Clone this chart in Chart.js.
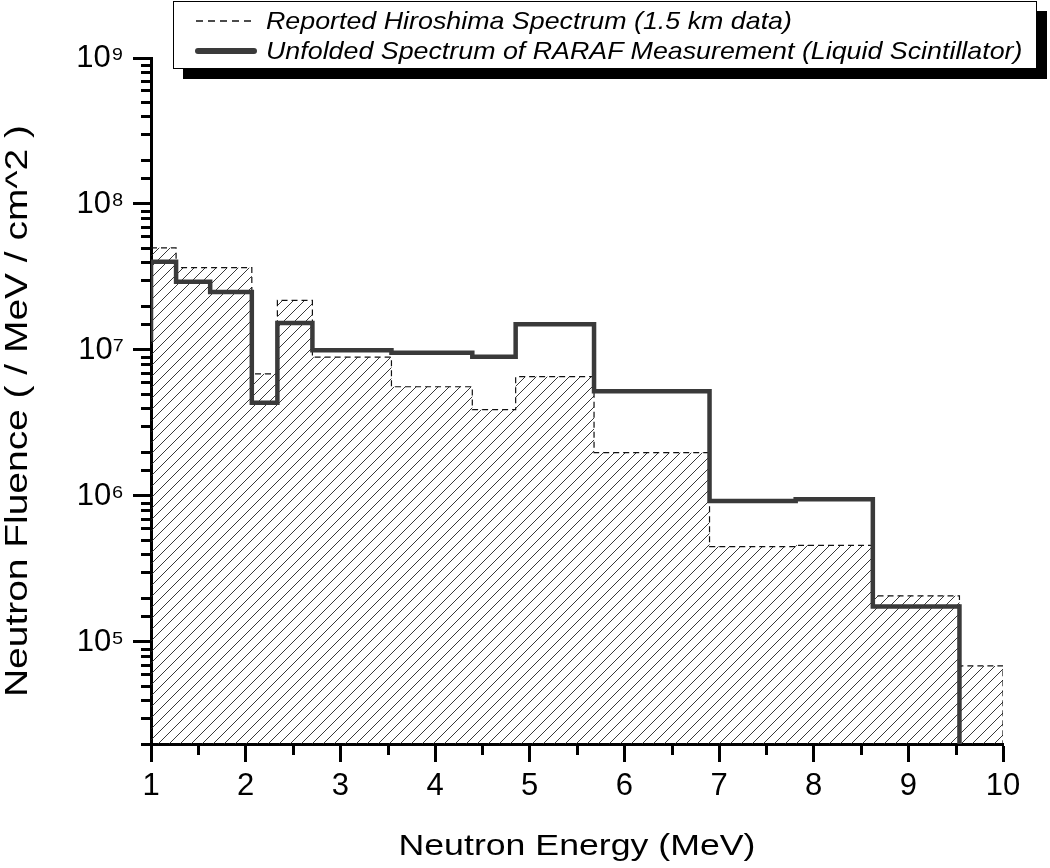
<!DOCTYPE html>
<html>
<head>
<meta charset="utf-8">
<script src="https://cdn.jsdelivr.net/npm/chart.js@4.4.0/dist/chart.umd.min.js"></script>
<style>
  html, body { margin: 0; padding: 0; background: #fff; }
  #wrap { position: relative; width: 1050px; height: 868px; overflow: hidden; }
  #chart { position: absolute; left: 0; top: 0; }
  #legend {
    position: absolute; left: 173px; top: 1px; width: 864px; height: 68px;
    box-sizing: border-box; border: 1.5px solid #000; background: #fff;
    box-shadow: 10px 10px 0 #000;
    font-family: "Liberation Sans", Arial, sans-serif; font-style: italic; font-size: 24px; color: #000;
  }
  #legend .sample { position: absolute; left: 20px; width: 64px; height: 12px; }
  #legend .txt { position: absolute; left: 91.5px; white-space: nowrap; line-height: 28px;
                 transform: scaleX(1.117); transform-origin: 0 50%; }
</style>
</head>
<body>
<div id="wrap">
  <canvas id="chart" width="1050" height="868"></canvas>
  <div id="legend">
    <svg class="sample" style="top:13px" width="64" height="12"><line x1="2" y1="6" x2="60" y2="6" stroke="#111" stroke-width="1.3" stroke-dasharray="7,5"/></svg>
    <span class="txt" style="top:5px">Reported Hiroshima Spectrum (1.5 km data)</span>
    <svg class="sample" style="top:43px" width="64" height="12"><line x1="4" y1="6" x2="60" y2="6" stroke="#3a3a3a" stroke-width="6" stroke-linecap="round"/></svg>
    <span class="txt" style="top:35px">Unfolded Spectrum of RARAF Measurement (Liquid Scintillator)</span>
  </div>
</div>
<script>
// ---- data ----
const seriesNames = ['Reported Hiroshima Spectrum (1.5 km data)',
                     'Unfolded Spectrum of RARAF Measurement (Liquid Scintillator)'];

// bin edges in MeV; each value holds from its edge up to the next edge
const hiroshimaEdges  = [1, 1.265, 1.625, 2.065, 2.335, 2.705, 3.54, 4.394, 4.852, 5.68, 6.90, 7.81, 8.625, 9.54, 10];
const hiroshimaValues = [5.01e7, 3.66e7, 3.66e7, 6.87e6, 2.19e7, 8.93e6, 5.60e6, 3.90e6, 6.56e6, 1.98e6, 4.50e5, 4.59e5, 2.07e5, 6.85e4];

const rarafEdges  = [0.9, 1, 1.265, 1.625, 2.065, 2.335, 2.705, 3.54, 4.394, 4.852, 5.68, 6.90, 7.81, 8.625, 9.54];
const rarafValues = [1.18e7, 4.02e7, 2.93e7, 2.50e7, 4.35e6, 1.53e7, 9.97e6, 9.58e6, 9.00e6, 1.50e7, 5.22e6, 9.23e5, 9.50e5, 1.75e5];

const xTickValues = [1, 2, 3, 4, 5, 6, 7, 8, 9, 10];
const xTickLabels = ['1', '2', '3', '4', '5', '6', '7', '8', '9', '10'];
const yTickValues = [1e5, 1e6, 1e7, 1e8, 1e9];
const yTickLabels = ['10\u2075', '10\u2076', '10\u2077', '10\u2078', '10\u2079'];

const xMin = 1, xMax = 10;
const yMin = 2e4, yMax = 1e9;
const xTitle = 'Neutron Energy (MeV)';
const yTitle = 'Neutron Fluence ( / MeV / cm^2 )';

// ---- build step points: value of bin i holds until edge i+1; final edge drops to the axis floor ----
function stepPoints(edges, values) {
  const pts = [];
  edges.forEach((e, i) => {
    pts.push({ x: e, y: i < values.length ? values[i] : yMin });
  });
  return pts;
}

// hatch pattern
function hatch() {
  const s = 11;
  const c = document.createElement('canvas');
  c.width = s; c.height = s;
  const g = c.getContext('2d');
  g.strokeStyle = '#222';
  g.lineWidth = 0.9;
  g.beginPath();
  g.moveTo(0, s); g.lineTo(s, 0);
  g.moveTo(-2, 2); g.lineTo(2, -2);
  g.moveTo(s - 2, s + 2); g.lineTo(s + 2, s - 2);
  g.stroke();
  return g.createPattern(c, 'repeat');
}

function isMajorY(v) {
  return yTickValues.some(t => Math.abs(v - t) / t < 1e-6);
}

const minorTicks = {
  id: 'minorTicks',
  afterDraw(chart) {
    const { ctx, chartArea, scales } = chart;
    ctx.save();
    ctx.strokeStyle = '#000';
    ctx.lineWidth = 3;
    ctx.beginPath();
    scales.y.ticks.forEach(t => {
      if (isMajorY(t.value)) return;
      const py = Math.round(scales.y.getPixelForValue(t.value)) + 0.5;
      if (py < chartArea.top - 1 || py > chartArea.bottom + 1) return;
      ctx.moveTo(chartArea.left - 10, py);
      ctx.lineTo(chartArea.left, py);
    });
    for (let i = 0; i < xTickValues.length - 1; i++) {
      const v = (xTickValues[i] + xTickValues[i + 1]) / 2;
      const px = Math.round(scales.x.getPixelForValue(v)) + 0.5;
      ctx.moveTo(px, chartArea.bottom);
      ctx.lineTo(px, chartArea.bottom + 11);
    }
    ctx.stroke();
    ctx.restore();
  }
};

// axis titles (the reference lettering is wider than the installed Arial metrics, so it is stretched to length)
const axisTitles = {
  id: 'axisTitles',
  afterDraw(chart) {
    const { ctx, chartArea } = chart;
    ctx.save();
    ctx.fillStyle = '#000';
    ctx.textAlign = 'center';
    ctx.textBaseline = 'alphabetic';
    // x title
    ctx.font = '30px "Liberation Sans", Arial, sans-serif';
    let w = ctx.measureText(xTitle).width;
    ctx.save();
    ctx.translate((chartArea.left + chartArea.right) / 2, chartArea.bottom + 111);
    ctx.scale(357 / w, 1);
    ctx.fillText(xTitle, 0, 0);
    ctx.restore();
    // y title
    ctx.font = '31px "Liberation Sans", Arial, sans-serif';
    w = ctx.measureText(yTitle).width;
    ctx.save();
    ctx.translate(chartArea.left - 124.5, (chartArea.top + chartArea.bottom) / 2 + 10);
    ctx.rotate(-Math.PI / 2);
    ctx.scale(572 / w, 1);
    ctx.fillText(yTitle, 0, 0);
    ctx.restore();
    ctx.restore();
  }
};

Chart.defaults.font.family = '"Liberation Sans", Arial, sans-serif';
Chart.defaults.color = '#000';

new Chart(document.getElementById('chart'), {
  type: 'line',
  data: {
    datasets: [
      {
        label: seriesNames[1],
        data: stepPoints(rarafEdges, rarafValues),
        stepped: 'before',
        borderColor: '#3a3a3a',
        borderWidth: 4.5,
        pointRadius: 0,
        fill: false,
        order: 0
      },
      {
        label: seriesNames[0],
        data: stepPoints(hiroshimaEdges, hiroshimaValues),
        stepped: 'before',
        borderColor: '#111',
        borderWidth: 1.2,
        borderDash: [6, 4],
        pointRadius: 0,
        fill: 'start',
        backgroundColor: hatch(),
        order: 1
      }
    ]
  },
  options: {
    responsive: false,
    animation: false,
    layout: { padding: { top: 58, right: 47, left: 0, bottom: 0 } },
    plugins: { legend: { display: false }, tooltip: { enabled: false } },
    scales: {
      x: {
        type: 'linear',
        min: xMin, max: xMax,
        afterFit(s) { s.height = 124; },
        afterBuildTicks(s) { s.ticks = xTickValues.map(v => ({ value: v })); },
        ticks: {
          autoSkip: false, maxRotation: 0,
          font: { size: 31 }, padding: 6,
          callback: (v) => { const i = xTickValues.indexOf(v); return i >= 0 ? xTickLabels[i] : ''; }
        },
        grid: { drawOnChartArea: false, drawTicks: true, tickLength: 18, tickWidth: 3, tickColor: '#000' },
        border: { display: true, color: '#000', width: 3 },
        title: { display: false, text: xTitle }
      },
      y: {
        type: 'logarithmic',
        min: yMin, max: yMax,
        afterFit(s) { s.width = 151; },
        ticks: {
          autoSkip: false,
          font: { size: 31 }, padding: 9,
          callback: (v) => { const i = yTickValues.findIndex(t => Math.abs(v - t) / t < 1e-6); return i >= 0 ? yTickLabels[i] : ''; }
        },
        grid: {
          drawOnChartArea: false, drawTicks: true, tickLength: 18, tickWidth: 3,
          tickColor: (c) => (c.tick && isMajorY(c.tick.value)) ? '#000' : 'rgba(0,0,0,0)'
        },
        border: { display: true, color: '#000', width: 3 },
        title: { display: false, text: yTitle }
      }
    }
  },
  plugins: [minorTicks, axisTitles]
});
</script>
</body>
</html>
